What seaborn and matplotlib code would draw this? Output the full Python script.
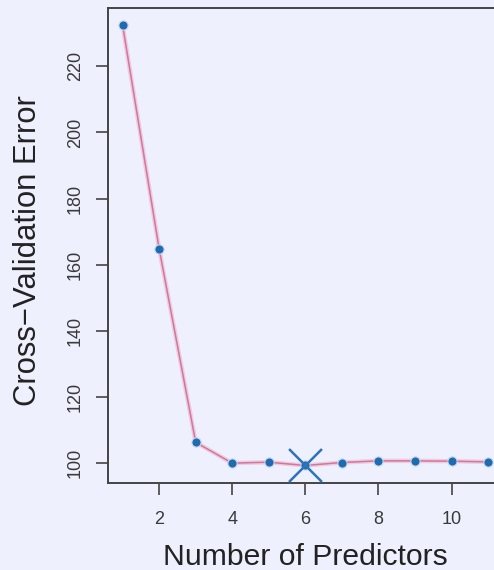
import matplotlib
matplotlib.use("Agg")
import matplotlib.pyplot as plt
import seaborn as sns
import numpy as np
import pandas as pd

# Cross-validation error by subset size
n_predictors = [1, 2, 3, 4, 5, 6, 7, 8, 9, 10, 11]
cv_error = [232.4, 164.8, 106.3, 100.0, 100.3, 99.3, 100.2, 100.7, 100.7, 100.6, 100.4]
x_ticks = [2, 4, 6, 8, 10]
y_ticks = [100, 120, 140, 160, 180, 200, 220]

df = pd.DataFrame({"size": n_predictors, "error": cv_error})

bg = "#EEF0FD"
sns.set_theme(style="white")
plt.rcParams["font.family"] = ["Liberation Sans", "DejaVu Sans"]

fig = plt.figure(figsize=(4.94, 5.70), dpi=100, facecolor=bg)
ax = fig.add_axes([0.2186, 0.1526, 0.799, 0.8333], facecolor=bg)

# soft halo under the curve, then the curve itself
sns.lineplot(data=df, x="size", y="error", ax=ax, color="#E8B8D0", lw=3.2, alpha=0.6)
sns.lineplot(data=df, x="size", y="error", ax=ax, color="#D8739A", lw=1.1)
sns.scatterplot(data=df, x="size", y="error", ax=ax, color="#1E6BB0", s=44,
                edgecolor="#C9D7EE", linewidth=0.8, zorder=3)

# mark the best model size
best = int(np.argmin(cv_error))
ax.scatter([n_predictors[best]], [cv_error[best]], marker="x", s=560,
           color="#2B74B8", linewidths=1.8, zorder=4)

ax.set_xlim(0.6, 11.4)
ax.set_ylim(94.0, 237.6)
ax.set_xticks(x_ticks)
ax.set_yticks(y_ticks)
ax.set_xticklabels([str(t) for t in x_ticks])
ax.set_yticklabels([str(t) for t in y_ticks], rotation=90, va="center")

for side in ["left", "top", "bottom", "right"]:
    ax.spines[side].set_visible(True)
    ax.spines[side].set_color("#444444")
    ax.spines[side].set_linewidth(1.4)

ax.tick_params(axis="both", which="major", direction="out", length=8.5, width=1.2,
               color="#444444", labelsize=13, labelcolor="#3a3a3a",
               left=True, bottom=True)
ax.tick_params(axis="x", pad=12)
ax.tick_params(axis="y", pad=9)

ax.set_xlabel("Number of Predictors", fontsize=21.7, color="#222222",
              va="baseline")
ax.xaxis.set_label_coords(0.5, -0.1725)
ax.set_ylabel("Cross\u2212Validation Error", fontsize=22.3, color="#222222",
              va="baseline", rotation_mode="anchor")
ax.yaxis.set_label_coords(-0.182, 0.49)

fig.savefig("out.png", dpi=100, facecolor=bg)
